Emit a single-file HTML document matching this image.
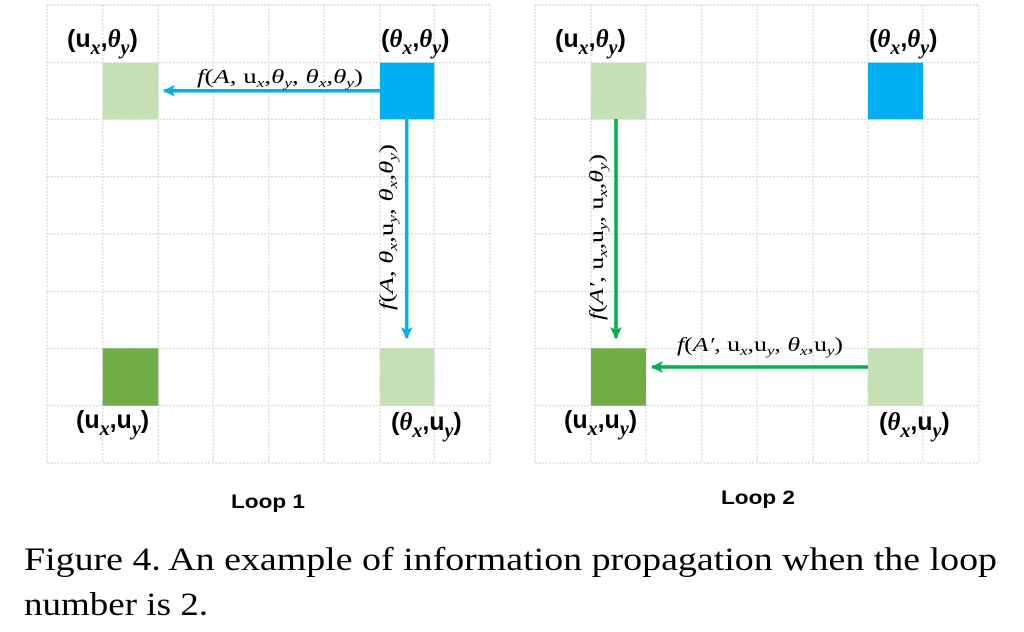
<!DOCTYPE html>
<html><head><meta charset="utf-8"><style>
html,body{margin:0;padding:0;background:#fff;width:1024px;height:632px;overflow:hidden}
svg{display:block}
.lb{font-family:"Liberation Sans",sans-serif;font-weight:bold;font-size:25px;fill:#000}
.it{font-family:"Liberation Serif",serif;font-style:italic;font-weight:bold}
.sb{font-family:"Liberation Serif",serif;font-style:italic;font-weight:bold;font-size:20px}
.fn{font-family:"Liberation Serif",serif;font-size:20px;fill:#000}
.fi{font-style:italic}
.fs{font-style:italic;font-size:13px}
.cap{font-family:"Liberation Serif",serif;font-size:33px;fill:#000}
.loop{font-family:"Liberation Sans",sans-serif;font-weight:bold;font-size:19px;fill:#000}
</style></head><body>
<svg width="1024" height="632" viewBox="0 0 1024 632" xmlns="http://www.w3.org/2000/svg">
<defs>
<marker id="ab" markerWidth="12" markerHeight="12" refX="11" refY="6" orient="auto" markerUnits="userSpaceOnUse"><path d="M0,0 L12,6 L0,12 L3,6 z" fill="#00b0f0"/></marker>
<marker id="ag" markerWidth="12" markerHeight="12" refX="11" refY="6" orient="auto" markerUnits="userSpaceOnUse"><path d="M0,0 L12,6 L0,12 L3,6 z" fill="#00b050"/></marker>
</defs>
<g stroke="#d6d6d6" stroke-width="1.2" stroke-dasharray="2,1.5" fill="none">
<path d="M47,5V463 M102.7,5V463 M158.3,5V463 M213.3,5V463 M268.7,5V463 M324,5V463 M380,5V463 M434.3,5V463 M490,5V463"/>
<path d="M47,5H490 M47,62.7H490 M47,119.3H490 M47,176.7H490 M47,234H490 M47,291.7H490 M47,348.3H490 M47,405.7H490 M47,463H490"/>
<path d="M535,5V463 M591,5V463 M646,5V463 M701.7,5V463 M757,5V463 M813,5V463 M868,5V463 M923,5V463 M979,5V463"/>
<path d="M535,5H979 M535,62.7H979 M535,119.3H979 M535,176.7H979 M535,234H979 M535,291.7H979 M535,348.3H979 M535,405.7H979 M535,463H979"/>
</g>
<rect x="102.7" y="62.7" width="55.6" height="56.6" fill="#c5e0b4"/>
<rect x="380" y="62.7" width="54.3" height="56.6" fill="#00b0f0"/>
<rect x="102.7" y="348.3" width="55.6" height="57.4" fill="#70ad47"/>
<rect x="380" y="348.3" width="54.3" height="57.4" fill="#c5e0b4"/>
<rect x="591" y="62.7" width="55" height="56.6" fill="#c5e0b4"/>
<rect x="868" y="62.7" width="55" height="56.6" fill="#00b0f0"/>
<rect x="591" y="348.3" width="55" height="57.4" fill="#70ad47"/>
<rect x="868" y="348.3" width="55" height="57.4" fill="#c5e0b4"/>
<line x1="380" y1="90.7" x2="164" y2="90.7" stroke="#00b0f0" stroke-width="3.5" marker-end="url(#ab)"/>
<line x1="406.7" y1="119" x2="406.7" y2="338" stroke="#00b0f0" stroke-width="3.5" marker-end="url(#ab)"/>
<line x1="616" y1="119" x2="616" y2="338" stroke="#00b050" stroke-width="3.5" marker-end="url(#ag)"/>
<line x1="868" y1="367" x2="652" y2="367" stroke="#00b050" stroke-width="3.5" marker-end="url(#ag)"/>
<text class="fn" x="280" y="83" text-anchor="middle" textLength="166" lengthAdjust="spacingAndGlyphs"><tspan class="fi">f</tspan>(<tspan class="fi">A</tspan>, u<tspan class="fs" dy="4">x</tspan><tspan dy="-4">,</tspan><tspan class="fi">θ</tspan><tspan class="fs" dy="4">y</tspan><tspan dy="-4">, </tspan><tspan class="fi">θ</tspan><tspan class="fs" dy="4">x</tspan><tspan dy="-4">,</tspan><tspan class="fi">θ</tspan><tspan class="fs" dy="4">y</tspan><tspan dy="-4">)</tspan></text>
<text class="fn" transform="translate(393,227) rotate(-90)" text-anchor="middle" textLength="166" lengthAdjust="spacingAndGlyphs"><tspan class="fi">f</tspan>(<tspan class="fi">A</tspan>, <tspan class="fi">θ</tspan><tspan class="fs" dy="4">x</tspan><tspan dy="-4">,u</tspan><tspan class="fs" dy="4">y</tspan><tspan dy="-4">, </tspan><tspan class="fi">θ</tspan><tspan class="fs" dy="4">x</tspan><tspan dy="-4">,</tspan><tspan class="fi">θ</tspan><tspan class="fs" dy="4">y</tspan><tspan dy="-4">)</tspan></text>
<text class="fn" transform="translate(603,237) rotate(-90)" text-anchor="middle" textLength="166" lengthAdjust="spacingAndGlyphs"><tspan class="fi">f</tspan>(<tspan class="fi">A′</tspan>, u<tspan class="fs" dy="4">x</tspan><tspan dy="-4">,u</tspan><tspan class="fs" dy="4">y</tspan><tspan dy="-4">, u</tspan><tspan class="fs" dy="4">x</tspan><tspan dy="-4">,</tspan><tspan class="fi">θ</tspan><tspan class="fs" dy="4">y</tspan><tspan dy="-4">)</tspan></text>
<text class="fn" x="760" y="351" text-anchor="middle" textLength="166" lengthAdjust="spacingAndGlyphs"><tspan class="fi">f</tspan>(<tspan class="fi">A′</tspan>, u<tspan class="fs" dy="4">x</tspan><tspan dy="-4">,u</tspan><tspan class="fs" dy="4">y</tspan><tspan dy="-4">, </tspan><tspan class="fi">θ</tspan><tspan class="fs" dy="4">x</tspan><tspan dy="-4">,u</tspan><tspan class="fs" dy="4">y</tspan><tspan dy="-4">)</tspan></text>
<text class="lb" x="67" y="47">(u<tspan class="sb" dy="7">x</tspan><tspan dy="-7">,</tspan><tspan class="it">θ</tspan><tspan class="sb" dy="7">y</tspan><tspan dy="-7">)</tspan></text>
<text class="lb" x="381" y="47">(<tspan class="it">θ</tspan><tspan class="sb" dy="7">x</tspan><tspan dy="-7">,</tspan><tspan class="it">θ</tspan><tspan class="sb" dy="7">y</tspan><tspan dy="-7">)</tspan></text>
<text class="lb" x="76" y="428">(u<tspan class="sb" dy="7">x</tspan><tspan dy="-7">,u</tspan><tspan class="sb" dy="7">y</tspan><tspan dy="-7">)</tspan></text>
<text class="lb" x="391" y="430">(<tspan class="it">θ</tspan><tspan class="sb" dy="7">x</tspan><tspan dy="-7">,u</tspan><tspan class="sb" dy="7">y</tspan><tspan dy="-7">)</tspan></text>
<text class="lb" x="555" y="47">(u<tspan class="sb" dy="7">x</tspan><tspan dy="-7">,</tspan><tspan class="it">θ</tspan><tspan class="sb" dy="7">y</tspan><tspan dy="-7">)</tspan></text>
<text class="lb" x="869" y="47">(<tspan class="it">θ</tspan><tspan class="sb" dy="7">x</tspan><tspan dy="-7">,</tspan><tspan class="it">θ</tspan><tspan class="sb" dy="7">y</tspan><tspan dy="-7">)</tspan></text>
<text class="lb" x="564" y="428">(u<tspan class="sb" dy="7">x</tspan><tspan dy="-7">,u</tspan><tspan class="sb" dy="7">y</tspan><tspan dy="-7">)</tspan></text>
<text class="lb" x="879" y="430">(<tspan class="it">θ</tspan><tspan class="sb" dy="7">x</tspan><tspan dy="-7">,u</tspan><tspan class="sb" dy="7">y</tspan><tspan dy="-7">)</tspan></text>
<text class="loop" x="268" y="508" text-anchor="middle" textLength="74" lengthAdjust="spacingAndGlyphs">Loop 1</text>
<text class="loop" x="758" y="504" text-anchor="middle" textLength="74" lengthAdjust="spacingAndGlyphs">Loop 2</text>
<text class="cap" x="24" y="570" textLength="973" lengthAdjust="spacingAndGlyphs">Figure 4. An example of information propagation when the loop</text>
<text class="cap" x="24" y="615" textLength="184" lengthAdjust="spacingAndGlyphs">number is 2.</text>
</svg>
</body></html>
